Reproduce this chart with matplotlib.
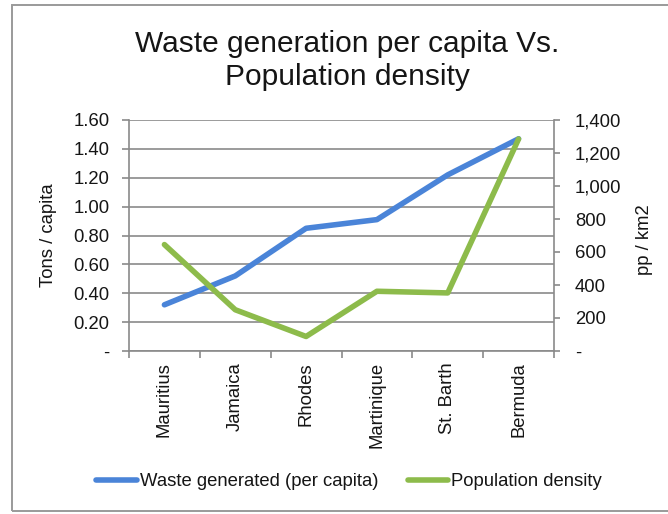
import matplotlib
matplotlib.use("Agg")
import matplotlib.pyplot as plt
from matplotlib.ticker import FuncFormatter, FixedLocator
from matplotlib.patches import Rectangle
from matplotlib.lines import Line2D

plt.rcParams['font.family'] = ['Liberation Sans', 'DejaVu Sans']

categories = ["Mauritius", "Jamaica", "Rhodes", "Martinique", "St. Barth", "Bermuda"]
waste_per_capita = [0.32, 0.52, 0.85, 0.91, 1.22, 1.47]
population_density = [645, 250, 88, 362, 352, 1285]
left_ticks = [0, 0.2, 0.4, 0.6, 0.8, 1.0, 1.2, 1.4, 1.6]
right_ticks = [0, 200, 400, 600, 800, 1000, 1200, 1400]

title_lines = ["Waste generation per capita Vs.", "Population density"]
left_label = "Tons / capita"
right_label = "pp / km2"
series_names = ["Waste generated (per capita)", "Population density"]

BLUE = "#4A84D8"
GREEN = "#8DBB4B"
GRAY = "#8A8A8A"
TXT = "#151515"

W, H = 668, 514
fig = plt.figure(figsize=(W / 100, H / 100), dpi=100)

# outer chart border
fig.patches.append(Rectangle((12 / W, 1 - 511 / H), 700 / W, (511 - 5) / H,
                             transform=fig.transFigure, fill=False,
                             edgecolor="#9a9a9a", linewidth=1.4))

left, right, top, bottom = 129, 554, 120, 351
ax = fig.add_axes([left / W, 1 - bottom / H, (right - left) / W, (bottom - top) / H])
ax2 = ax.twinx()

x = list(range(len(categories)))
ax.plot(x, waste_per_capita, color=BLUE, lw=4, solid_capstyle='round', zorder=3)
ax2.plot(x, population_density, color=GREEN, lw=4, solid_capstyle='round', zorder=3)

ax.set_xlim(-0.5, len(categories) - 0.5)
ax.set_ylim(0, 1.6)
ax2.set_ylim(0, 1400)

fs = 13.3
ax.yaxis.set_major_locator(FixedLocator(left_ticks))
ax.yaxis.set_major_formatter(FuncFormatter(lambda v, p: "-" if abs(v) < 1e-9 else f"{v:.2f}"))
ax2.yaxis.set_major_locator(FixedLocator(right_ticks))
ax2.yaxis.set_major_formatter(FuncFormatter(lambda v, p: "-" if abs(v) < 1e-9 else f"{int(v):,}"))

ax.set_xticks(x)
ax.set_xticklabels(categories, rotation=90, fontsize=fs, color=TXT)
ax.set_xticks([i - 0.5 for i in range(len(categories) + 1)], minor=True)
ax.tick_params(axis='x', which='major', length=0, pad=8)
ax.tick_params(axis='x', which='minor', length=5, color=GRAY, width=1.2, direction='out')

ax.tick_params(axis='y', which='major', length=5, color=GRAY, width=1.2, pad=9, labelsize=fs, labelcolor=TXT)
ax2.tick_params(axis='y', which='major', length=4, color=GRAY, width=1.2, pad=11, labelsize=fs, labelcolor=TXT)

ax.grid(axis='y', color=GRAY, lw=1.2)
ax.set_axisbelow(True)

for a in (ax, ax2):
    for s in a.spines.values():
        s.set_visible(False)
ax.spines['left'].set_visible(True)
ax.spines['left'].set_color(GRAY)
ax.spines['left'].set_linewidth(1.2)
ax.spines['bottom'].set_visible(True)
ax.spines['bottom'].set_color(GRAY)
ax.spines['bottom'].set_linewidth(1.2)
ax2.spines['right'].set_visible(True)
ax2.spines['right'].set_color(GRAY)
ax2.spines['right'].set_linewidth(1.2)

ax.set_ylabel(left_label, fontsize=fs, color=TXT)
ax.yaxis.set_label_coords((57 - left) / (right - left), 0.5)
ax2.set_ylabel(right_label, fontsize=fs, color=TXT)
ax2.yaxis.set_label_coords((636 - left) / (right - left), 0.48)

# title
fig.text(347 / W, 1 - 52 / H, title_lines[0], ha='center', va='baseline', fontsize=21.5, color=TXT)
fig.text(347 / W, 1 - 85 / H, title_lines[1], ha='center', va='baseline', fontsize=21.5, color=TXT)

handles = [Line2D([], [], color=BLUE, lw=4, solid_capstyle='round'),
           Line2D([], [], color=GREEN, lw=4, solid_capstyle='round')]
fig.legend(handles, series_names, loc='center', bbox_to_anchor=(349 / W, 1 - 482 / H),
           ncol=2, frameon=False, fontsize=fs, handlelength=2.2, handletextpad=0.15,
           columnspacing=1.6, labelcolor=TXT)

fig.savefig("out.png", dpi=100)
